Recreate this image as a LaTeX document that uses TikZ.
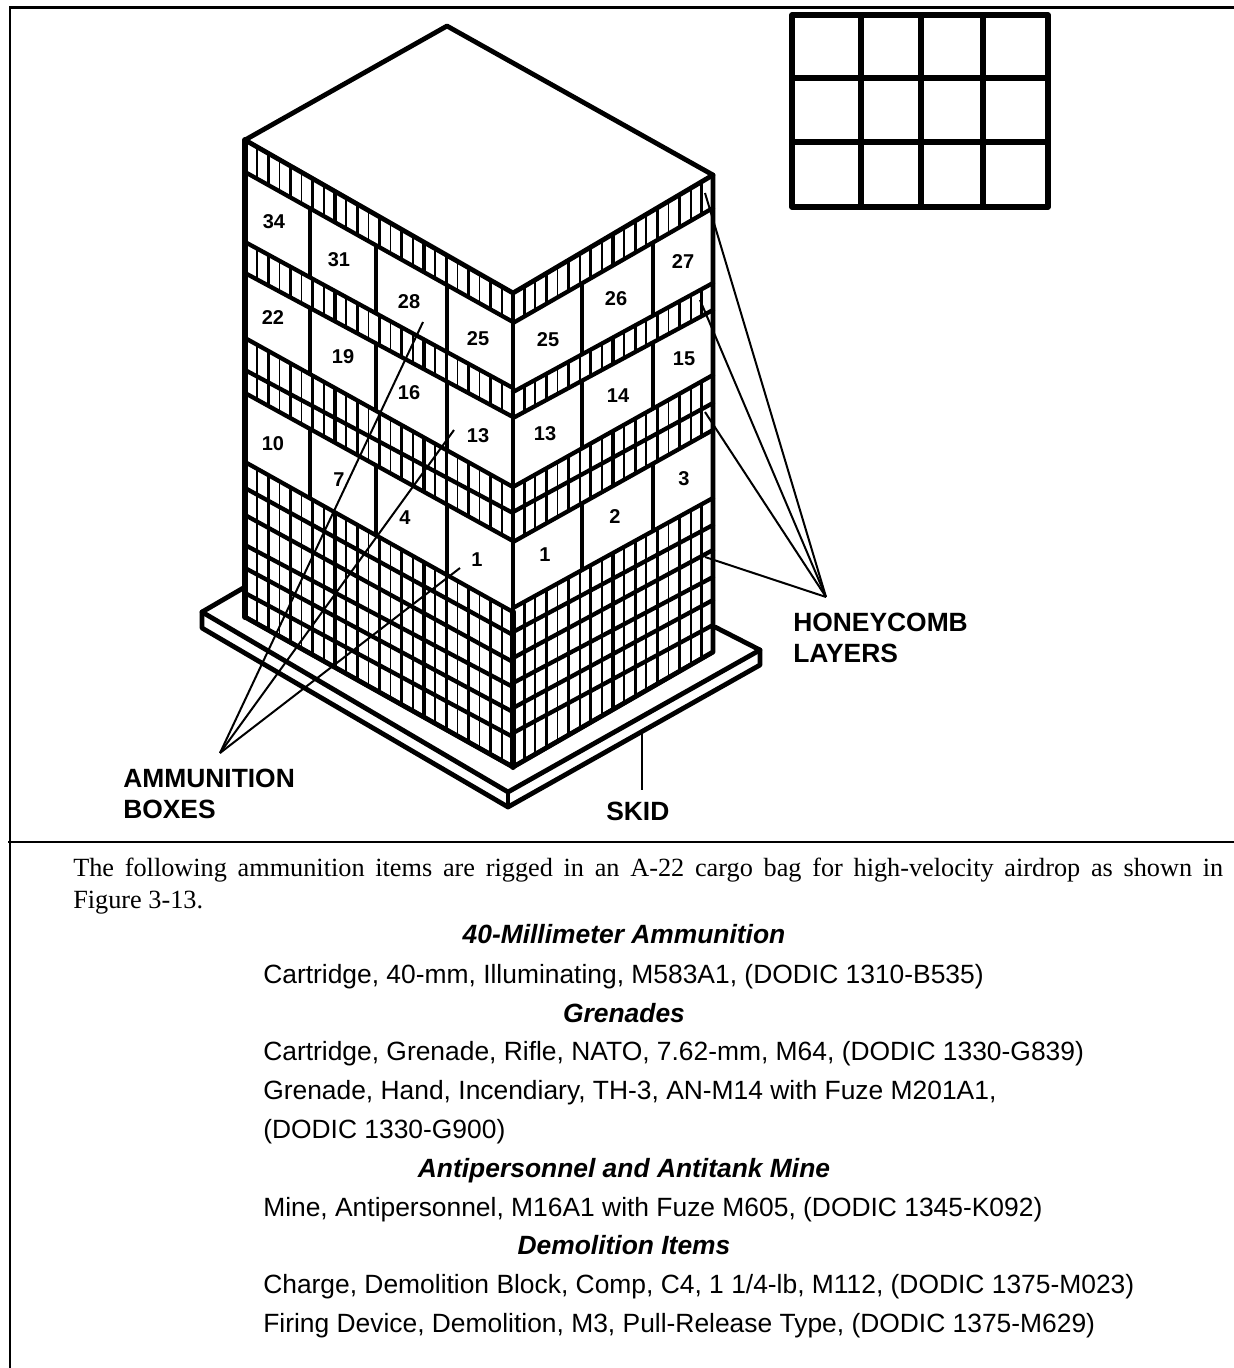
\documentclass[tikz,border=0pt]{standalone}
\usepackage{fontspec}
\setmainfont{Liberation Sans}
\newfontfamily\serf{Liberation Serif}
\tikzset{
  edgeline/.style={line width=3.6pt,line cap=round,line join=round},
  heavyedge/.style={line width=4.5pt,line cap=round},
  bandline/.style={line width=3.2pt,line cap=round},
  sepline/.style={line width=3pt},
  gridline/.style={line width=3.9pt},
  frameline/.style={line width=1.8pt},
  leader/.style={line width=1.5pt},
  boxnum/.style={font=\fontsize{15}{15}\selectfont\bfseries,inner sep=0pt},
  calllabel/.style={font=\fontsize{19.8}{19.8}\selectfont\bfseries,inner sep=0pt,anchor=base west},
  bodyitem/.style={font=\fontsize{19.8}{19.8}\selectfont,inner sep=0pt,anchor=base west},
  bodyhead/.style={font=\fontsize{19.8}{19.8}\selectfont\bfseries\itshape,inner sep=0pt,anchor=base},
  prose/.style={font=\serf\fontsize{19.7}{19.7}\selectfont,inner sep=0pt,anchor=base west}
}
\begin{document}
\begin{tikzpicture}[x=0.75pt,y=-0.75pt]
\useasboundingbox (0,0) rectangle (1234,1368);
% frame
\draw[frameline] (1234,7.5) -- (10,7.5) -- (10,1368);
\draw[frameline] (8,842) -- (1234,842);
% inset grid
\draw[gridline,line join=round] (792,15) rectangle (1048,207);
\foreach \gx in {861,921,983} \draw[gridline] (\gx,15) -- (\gx,207);
\foreach \gy in {78,142} \draw[gridline] (792,\gy) -- (1048,\gy);
% skid
\draw[edgeline] (245,587) -- (202,612) -- (508,792) -- (760,650) -- (715,627);
\draw[edgeline] (202,612) -- (202,628) -- (508,807) -- (760,665) -- (760,650);
\draw[edgeline] (508,792) -- (508,807);
% white stack
\fill[white] (245,140) -- (447,26) -- (713,175) -- (713,652) -- (513,767) -- (245,617) -- cycle;
% honeycomb hatching, left face
\foreach \ta/\tb/\ba/\bb in {140/293/172/322, 242/388/273/417, 338/487/393/541, 462/612/617/767}
  \foreach \k in {1,...,23} {
    \pgfmathsetmacro\hx{246+\k*267/24}
    \pgfmathsetmacro\hya{\ta+(\tb-\ta)*\k/24}
    \pgfmathsetmacro\hyb{\ba+(\bb-\ba)*\k/24}
    \pgfmathsetmacro\hw{isodd(\k)?1.3:2.3}
    \draw[line width=\hw pt] (\hx,\hya) -- (\hx,\hyb);
  }
% honeycomb hatching, right face
\foreach \ta/\tb/\ba/\bb in {293/175/323/208, 392/283/418/310, 487/375/542/430, 608/498/767/652}
  \foreach \k in {1,...,17} {
    \pgfmathsetmacro\hx{513+\k*200/18}
    \pgfmathsetmacro\hya{\ta+(\tb-\ta)*\k/18}
    \pgfmathsetmacro\hyb{\ba+(\bb-\ba)*\k/18}
    \pgfmathsetmacro\hw{isodd(\k)?2.3:1.3}
    \draw[line width=\hw pt] (\hx,\hya) -- (\hx,\hyb);
  }
% layer lines
\foreach \ya/\yb in {172/322,242/388,273/417,338/487,370/513,393/541,462/612,488/635,515/662,545/687,568/712,593/737,617/767}
  \draw[bandline] (245,\ya) -- (513,\yb);
\foreach \ya/\yb in {323/208,392/283,418/310,487/375,512/403,542/430,608/498,632/525,658/550,683/577,708/600,733/625,767/652}
  \draw[bandline] (513,\ya) -- (713,\yb);
% box separators, left face
\foreach \ta/\tb/\ba/\bb in {172/322/242/388, 273/417/338/487, 393/541/462/612}
  \foreach \sx in {310,375.5,446.5} {
    \pgfmathsetmacro\fr{(\sx-245)/268}
    \pgfmathsetmacro\sya{\ta+(\tb-\ta)*\fr}
    \pgfmathsetmacro\syb{\ba+(\bb-\ba)*\fr}
    \draw[sepline] (\sx,\sya) -- (\sx,\syb);
  }
% box separators, right face
\foreach \ta/\tb/\ba/\bb in {323/208/392/283, 418/310/487/375, 542/430/608/498}
  \foreach \sx in {582,653} {
    \pgfmathsetmacro\fr{(\sx-513)/200}
    \pgfmathsetmacro\sya{\ta+(\tb-\ta)*\fr}
    \pgfmathsetmacro\syb{\ba+(\bb-\ba)*\fr}
    \draw[sepline] (\sx,\sya) -- (\sx,\syb);
  }
% stack outline
\draw[edgeline] (245,140) -- (447,26) -- (713,175) -- (513,293) -- cycle;
\draw[edgeline] (245,140) -- (245,617) -- (513,767) -- (713,652) -- (713,175);
\draw[edgeline] (513,293) -- (513,767);
\draw[heavyedge] (245,140) -- (245,617);
\draw[heavyedge] (513,612) -- (513,767);
% box numbers
\foreach \nm/\nx/\ny in {34/274/222,31/339/260,28/409/302,25/478/339,22/273/318,19/343/357,16/409/393,13/478/436,10/273/444,7/339/480,4/405/518,1/477/560,25/548/340,26/616/299,27/683/262,13/545/434,14/618/396,15/684/359,3/684/479,1/545/555,2/615/517}
  \node[boxnum] at (\nx,\ny) {\nm};
% labels
\node[calllabel] (ammoA) at (123,787) {AMMUNITION};
\node[calllabel] (ammoB) at (123,818) {BOXES};
\node[calllabel] (honeyA) at (793,631) {HONEYCOMB};
\node[calllabel] (honeyB) at (793,662) {LAYERS};
\node[calllabel] (skidlab) at (606,820) {SKID};
% leaders
\coordinate (ammoTip) at (220,753);
\coordinate (honeyTip) at (826,597);
\coordinate (skidTop) at (642,733);
\coordinate (skidEnd) at (642,790);
\coordinate (a1) at (423,322);
\coordinate (a2) at (454,430);
\coordinate (a3) at (460,568);
\coordinate (h1) at (705,193);
\coordinate (h2) at (700,300);
\coordinate (h3) at (705,412);
\coordinate (h4) at (705,557);
\foreach \e in {a1,a2,a3} \draw[leader] (ammoTip) -- (\e);
\foreach \e in {h1,h2,h3,h4} \draw[leader] (honeyTip) -- (\e);
\draw[leader] (skidTop) -- (skidEnd);
% text
\node[prose] (p1) at (73,876) {\makebox[862.5pt][s]{The following ammunition items are rigged in an A-22 cargo bag for high-velocity airdrop as shown in}};
\node[prose] (p2) at (73,908) {Figure 3-13.};
\node[bodyhead] (t1) at (624,943) {40-Millimeter Ammunition};
\node[bodyitem] (t2) at (263,983) {Cartridge, 40-mm, Illuminating, M583A1, (DODIC 1310-B535)};
\node[bodyhead] (t3) at (624,1022) {Grenades};
\node[bodyitem] (t4) at (263,1060) {Cartridge, Grenade, Rifle, NATO, 7.62-mm, M64, (DODIC 1330-G839)};
\node[bodyitem] (t5) at (263,1099) {Grenade, Hand, Incendiary, TH-3, AN-M14 with Fuze M201A1,};
\node[bodyitem] (t6) at (263,1138) {(DODIC 1330-G900)};
\node[bodyhead] (t7) at (624,1177) {Antipersonnel and Antitank Mine};
\node[bodyitem] (t8) at (263,1216) {Mine, Antipersonnel, M16A1 with Fuze M605, (DODIC 1345-K092)};
\node[bodyhead] (t9) at (624,1254) {Demolition Items};
\node[bodyitem] (t10) at (263,1293) {Charge, Demolition Block, Comp, C4, 1 1/4-lb, M112, (DODIC 1375-M023)};
\node[bodyitem] (t11) at (263,1332) {Firing Device, Demolition, M3, Pull-Release Type, (DODIC 1375-M629)};
\end{tikzpicture}
\end{document}
